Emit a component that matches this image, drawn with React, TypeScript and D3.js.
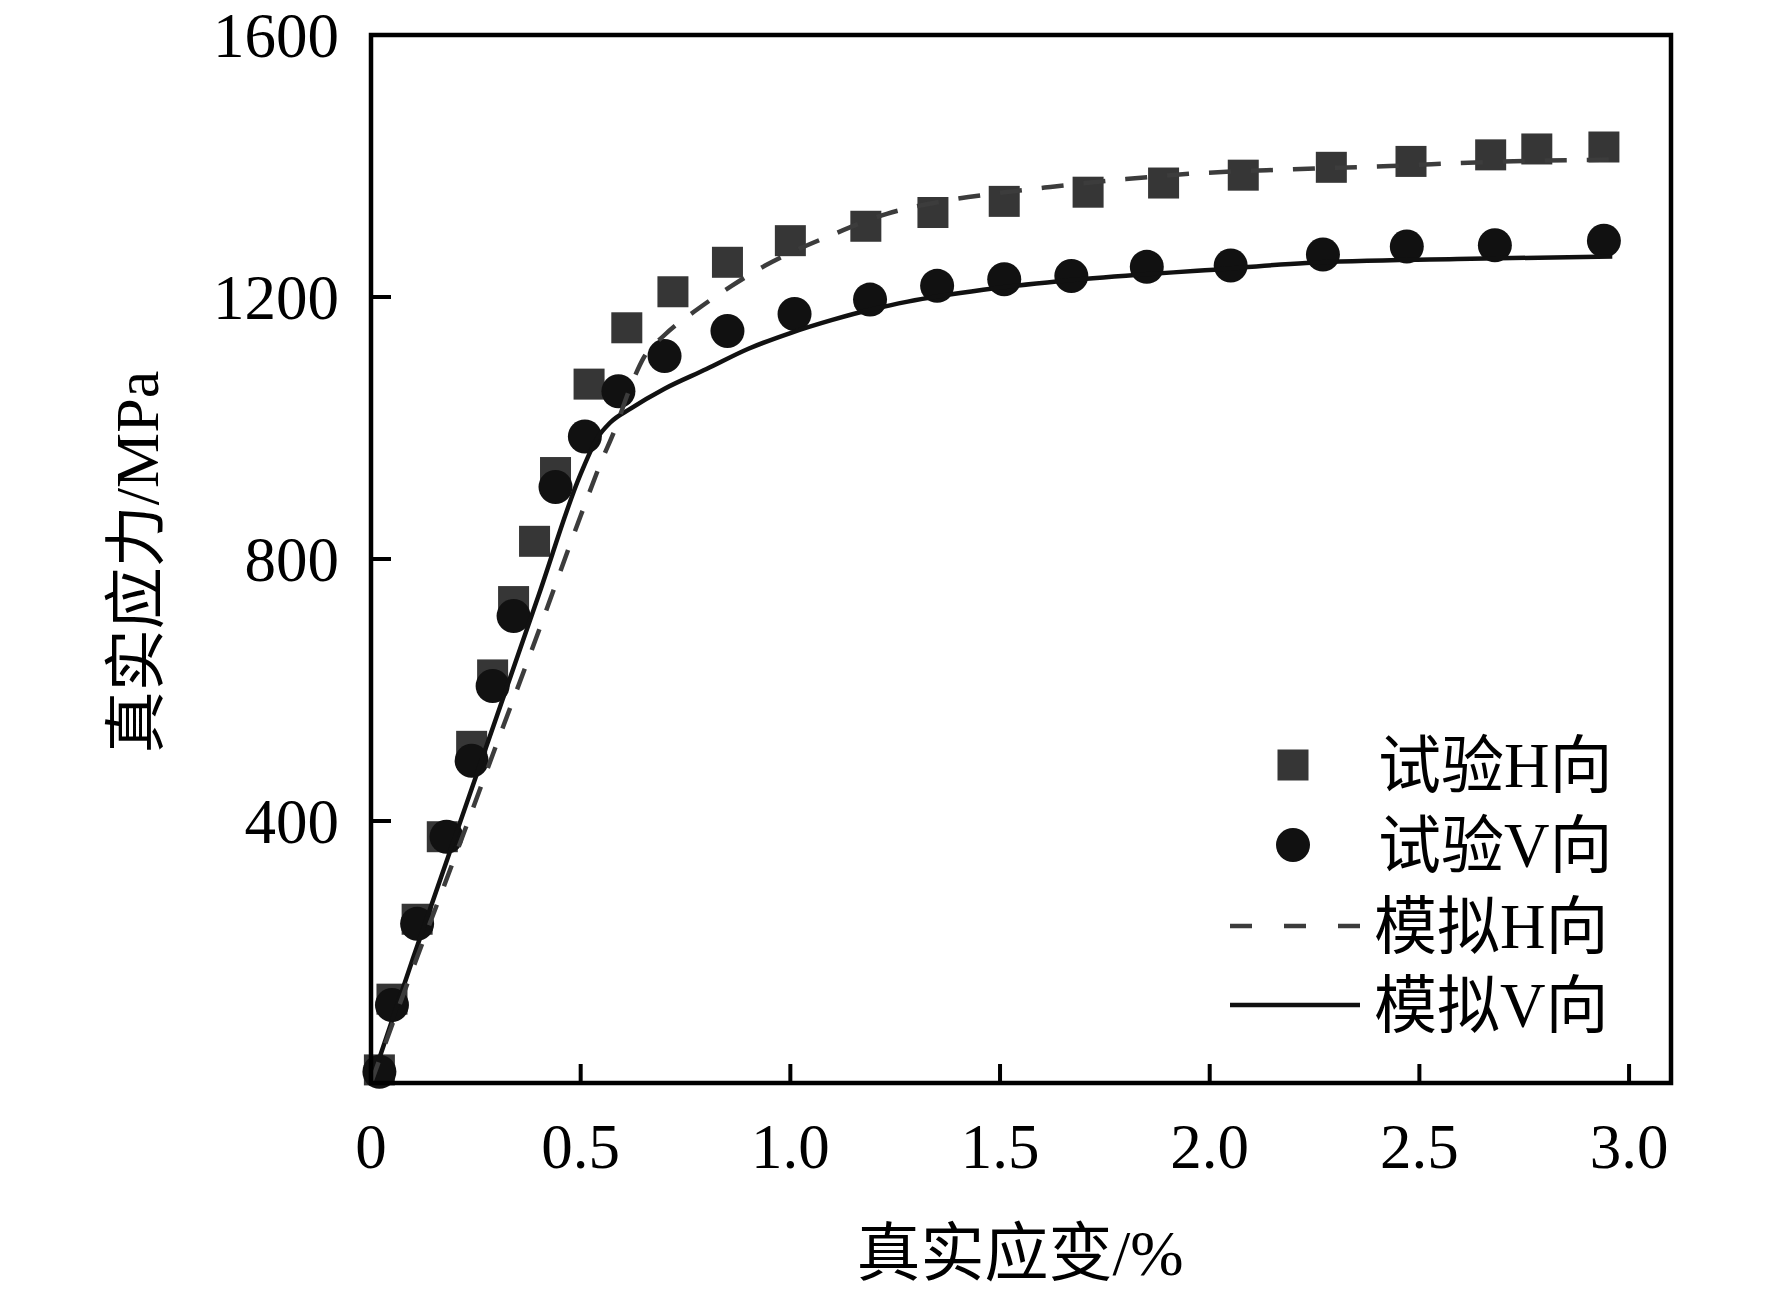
import * as d3 from 'd3';

// 试验 H 向 (squares): strain %, stress MPa
const testHStrain = [0.02, 0.05, 0.11, 0.17, 0.24, 0.29, 0.34, 0.39, 0.44, 0.52, 0.61, 0.72, 0.85, 1.0, 1.18, 1.34, 1.51, 1.71, 1.89, 2.08, 2.29, 2.48, 2.67, 2.78, 2.94];
const testHStress = [20, 128, 250, 376, 514, 623, 735, 827, 932, 1067, 1153, 1208, 1253, 1286, 1308, 1329, 1346, 1360, 1374, 1386, 1398, 1407, 1417, 1426, 1429];

// 试验 V 向 (circles)
const testVStrain = [0.02, 0.05, 0.11, 0.18, 0.24, 0.29, 0.34, 0.44, 0.51, 0.59, 0.70, 0.85, 1.01, 1.19, 1.35, 1.51, 1.67, 1.85, 2.05, 2.27, 2.47, 2.68, 2.94];
const testVStress = [17, 119, 243, 376, 492, 606, 713, 910, 987, 1056, 1110, 1148, 1174, 1196, 1217, 1227, 1232, 1246, 1248, 1265, 1277, 1279, 1286];

// 模拟 H 向 (dashed)
const simHStrain = [0, 0.1, 0.2, 0.3, 0.4, 0.5, 0.55, 0.58, 0.62, 0.65, 0.7, 0.78, 0.86, 0.94, 1.1, 1.23, 1.37, 1.5, 1.62, 1.8, 1.95, 2.2, 2.43, 2.66, 2.98];
const simHStress = [0, 175, 345, 518, 690, 866, 950, 995, 1065, 1107, 1142, 1182, 1217, 1248, 1295, 1327, 1347, 1359, 1368, 1380, 1388, 1395, 1400, 1406, 1410];

// 模拟 V 向 (solid)
const simVStrain = [0, 0.1, 0.2, 0.3, 0.4, 0.5, 0.54, 0.57, 0.62, 0.7, 0.8, 0.9, 1.0, 1.1, 1.2, 1.28, 1.46, 1.64, 1.83, 1.97, 2.23, 2.59, 2.96];
const simVStress = [0, 190, 375, 560, 745, 930, 985, 1008, 1030, 1060, 1090, 1121, 1145, 1165, 1182, 1193, 1211, 1224, 1234, 1240, 1252, 1258, 1262];

const xTicks = [0, 0.5, 1.0, 1.5, 2.0, 2.5, 3.0];
const xTickLabels = ['0', '0.5', '1.0', '1.5', '2.0', '2.5', '3.0'];
const yTicks = [400, 800, 1200, 1600];

const legendLabels = ['试验H向', '试验V向', '模拟H向', '模拟V向'];

const W = 1772;
const H = 1296;
const left = 371;
const right = 1671;
const top = 35;
const bottom = 1083;

const FONT = "'Liberation Serif', 'Times New Roman', 'Noto Sans CJK SC', serif";

export default function App() {
  const x = d3.scaleLinear().domain([0, 3.1]).range([left, right]);
  const y = d3.scaleLinear().domain([0, 1600]).range([bottom, top]);

  const line = d3.line<[number, number]>()
    .x(d => x(d[0]))
    .y(d => y(d[1]))
    .curve(d3.curveMonotoneX);

  const simH = simHStrain.map((v, i) => [v, simHStress[i]] as [number, number]);
  const simV = simVStrain.map((v, i) => [v, simVStress[i]] as [number, number]);

  const sq = 31;
  const legX = 1293;
  const legRows = [765, 845, 926, 1005];

  return (
    <svg
      width={W}
      height={H}
      style={{ position: 'absolute', left: 0, top: 0, background: '#fff' }}
      fontFamily={FONT}
    >
      <rect x={0} y={0} width={W} height={H} fill="#fff" />

      {/* squares */}
      {testHStrain.map((v, i) => (
        <rect key={`s${i}`} x={x(v) - sq / 2} y={y(testHStress[i]) - sq / 2} width={sq} height={sq} fill="#363636" />
      ))}
      {/* circles */}
      {testVStrain.map((v, i) => (
        <circle key={`c${i}`} cx={x(v)} cy={y(testVStress[i])} r={17} fill="#111" />
      ))}

      <path d={line(simV) ?? ''} fill="none" stroke="#111" strokeWidth={4.5} />
      <path d={line(simH) ?? ''} fill="none" stroke="#3c3c3c" strokeWidth={4.5} strokeDasharray="22,20" />

      {/* frame */}
      <rect x={left} y={top} width={right - left} height={bottom - top} fill="none" stroke="#000" strokeWidth={4.5} />

      {/* x ticks */}
      {xTicks.map((t, i) => (
        <g key={`xt${i}`}>
          {i > 0 && <line x1={x(t)} x2={x(t)} y1={bottom} y2={bottom - 19} stroke="#000" strokeWidth={4} />}
          <text x={x(t)} y={bottom + 85} textAnchor="middle" fontSize={63} fill="#000">{xTickLabels[i]}</text>
        </g>
      ))}

      {/* y ticks */}
      {yTicks.map((t, i) => (
        <g key={`yt${i}`}>
          {t < 1600 && <line x1={left} x2={left + 20} y1={y(t)} y2={y(t)} stroke="#000" strokeWidth={4} />}
          <text x={339} y={y(t)} dy="0.35em" textAnchor="end" fontSize={63} fill="#000">{t}</text>
        </g>
      ))}

      {/* axis titles */}
      <text x={1020} y={1253} dy="0.35em" textAnchor="middle" fontSize={64} fill="#000">真实应变/%</text>
      <text
        transform={`translate(136,562) rotate(-90)`}
        dy="0.35em"
        textAnchor="middle"
        fontSize={62}
        fill="#000"
      >真实应力/MPa</text>

      {/* legend */}
      <rect x={legX - sq / 2} y={legRows[0] - sq / 2} width={sq} height={sq} fill="#363636" />
      <circle cx={legX} cy={legRows[1]} r={17} fill="#111" />
      <line x1={1230} x2={1360} y1={legRows[2]} y2={legRows[2]} stroke="#3c3c3c" strokeWidth={4.5} strokeDasharray="22,32" />
      <line x1={1230} x2={1360} y1={legRows[3]} y2={legRows[3]} stroke="#111" strokeWidth={4.5} />
      {legendLabels.map((l, i) => (
        <text key={`l${i}`} x={i < 2 ? 1378 : 1374} y={legRows[i]} dy="0.35em" fontSize={63} fill="#000">{l}</text>
      ))}
    </svg>
  );
}
